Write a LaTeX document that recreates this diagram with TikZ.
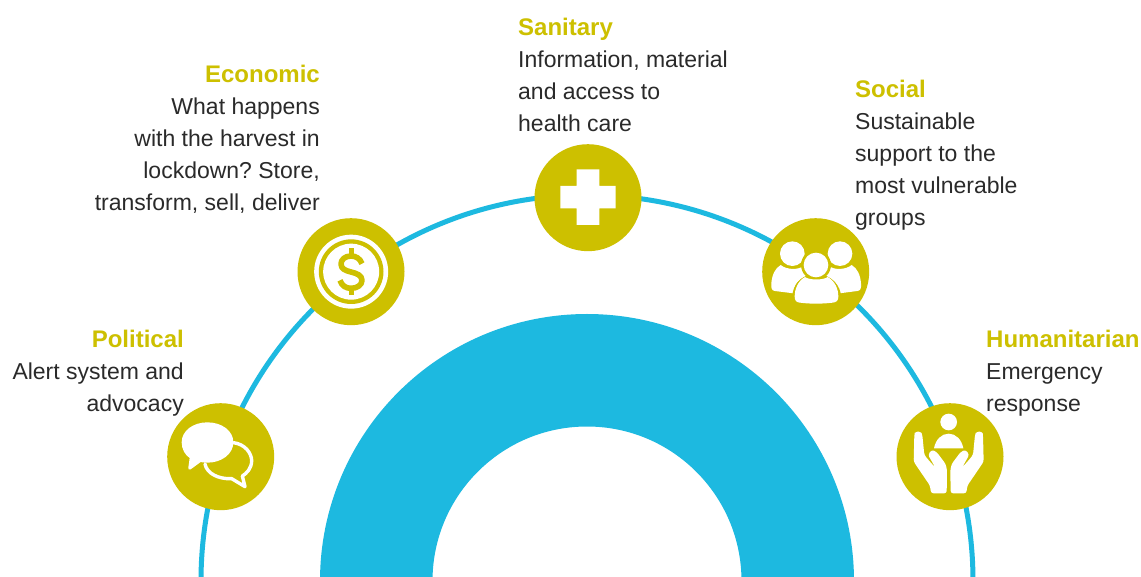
\documentclass[tikz,border=0pt]{standalone}
\usepackage{fontspec}
\setmainfont{Liberation Sans}
\definecolor{olive}{HTML}{CDC000}
\definecolor{sky}{HTML}{1DB9E0}
\definecolor{ink}{HTML}{2A2A2A}
\tikzset{
  badge/.style={circle,fill=olive,minimum size=107pt,inner sep=0pt},
  label/.style={text=ink,inner sep=0pt,font=\fontsize{23}{32}\selectfont\frenchspacing},
  lleft/.style={label,align=left,anchor=north west},
  lright/.style={label,align=right,anchor=north east},
  iconline/.style={draw=white,fill=none,line cap=round,line join=round},
}
\newcommand{\hd}[1]{{\fontsize{24}{32}\selectfont\bfseries\color{olive}#1}}
\newcommand{\onehand}{%
  \fill[white,rounded corners=2.5pt] (-103,135) -- (-101,125) -- (-83,125) -- (-79,135) -- (-73,195) -- (-58,213) -- (-40,233) -- (-62,194) -- (-50,179) -- (-36,186) -- (-9,222) -- (-5,240) -- (-6,310) -- (-53,310) -- (-56,287) -- (-105,215) -- cycle;
}
\begin{document}
\begin{tikzpicture}[x=1pt,y=-1pt]
\useasboundingbox (0,0) rectangle (1141,577);
\clip (0,0) rectangle (1141,577);
\fill[white] (0,0) rectangle (1141,577);
\coordinate (c) at (587,581);
\draw[sky,line width=5pt] (c) ++(-386,0) arc[start angle=180,end angle=360,radius=386];
\draw[sky,line width=112.5pt] (c) ++(-210.75,0) arc[start angle=180,end angle=360,radius=210.75];
\node[badge] (political) at (220.7,456.7) {};
\node[badge] (economic) at (351,271.7) {};
\node[badge] (sanitary) at (588,197.7) {};
\node[badge] (social) at (815.7,271.7) {};
\node[badge] (humanitarian) at (950,456.7) {};
% speech bubbles
\begin{scope}[shift={(150,390)},scale=1/3]
  \draw[iconline,line width=3.4pt] (250,158) .. controls (285,162) and (305,190) .. (305,212) .. controls (305,235) and (290,250) .. (277,258) -- (285,290) -- (245,266) .. controls (205,268) and (170,250) .. (165,222);
  \fill[white] (172,97) .. controls (215,97) and (250,122) .. (250,157) .. controls (250,192) and (215,218) .. (172,218) .. controls (162,218) and (158,217) .. (152,216) -- (122,238) .. controls (117,241) and (114,238) .. (115,233) -- (119,204) .. controls (105,195) and (95,177) .. (95,157) .. controls (95,122) and (130,97) .. (172,97) -- cycle;
\end{scope}
% coin
\begin{scope}[shift={(285,205)},scale=1/3]
  \fill[white] (198.5,200) circle (111);
  \fill[olive] (198.5,200) circle (97);
  \fill[white] (198.5,200) circle (84);
  \draw[olive,line width=5.6pt,line join=round] (231,176) .. controls (225,160) and (212,153) .. (198,153) .. controls (180,153) and (168,164) .. (168,177) .. controls (168,192) and (182,197) .. (198,201) .. controls (215,205) and (231,211) .. (231,226) .. controls (231,240) and (216,250) .. (198,250) .. controls (182,250) and (170,242) .. (165,226);
  \draw[olive,line width=5pt] (198,130) -- (198,153) (198,250) -- (198,270);
\end{scope}
% cross
\begin{scope}[shift={(525,135)},scale=1/3]
  \fill[white] (155,103) -- (223,103) -- (223,153) -- (272,153) -- (272,220) -- (223,220) -- (223,270) -- (155,270) -- (155,220) -- (106,220) -- (106,153) -- (155,153) -- cycle;
\end{scope}
% people
\begin{scope}[shift={(750,205)},scale=1/3]
  \fill[white] (127,146) circle (37);
  \fill[white] (270,146) circle (37);
  \fill[white] (92,180) .. controls (110,195) and (145,195) .. (158,184) -- (170,215) .. controls (145,220) and (132,240) .. (130,265) -- (75,258) .. controls (65,257) and (63,250) .. (64,235) .. controls (66,210) and (75,190) .. (92,180) -- cycle;
  \fill[white] (305,180) .. controls (287,195) and (252,195) .. (239,184) -- (227,215) .. controls (252,220) and (265,240) .. (268,265) -- (322,258) .. controls (332,257) and (334,250) .. (333,235) .. controls (331,210) and (322,190) .. (305,180) -- cycle;
  \fill[olive] (198,180) circle (45);
  \fill[olive] (198,207) .. controls (150,207) and (127,245) .. (127,275) .. controls (127,295) and (135,300) .. (150,301) -- (250,301) .. controls (265,300) and (273,295) .. (273,275) .. controls (273,245) and (246,207) .. (198,207) -- cycle;
  \fill[white] (198,180) circle (37);
  \fill[white] (165,216) .. controls (178,226) and (220,226) .. (233,216) .. controls (255,228) and (265,252) .. (265,275) .. controls (265,288) and (258,292) .. (248,293) .. controls (215,297) and (180,297) .. (150,293) .. controls (140,292) and (134,288) .. (134,275) .. controls (134,252) and (144,228) .. (165,216) -- cycle;
\end{scope}
% hands
\begin{scope}[shift={(885,390)},scale=1/3]
  \fill[white] (191,96) circle (25);
  \fill[white] (147,175) .. controls (152,148) and (170,131) .. (191,131) .. controls (212,131) and (230,148) .. (235,175) -- cycle;
  \begin{scope}[shift={(191,0)}]\onehand\end{scope}
  \begin{scope}[shift={(191,0)},xscale=-1]\onehand\end{scope}
\end{scope}
% labels
\node[lright] (tpol) at (184,329.5) {\hd{Political}\\Alert system and\\advocacy};
\node[lright] (teco) at (320,64.5) {\hd{Economic}\\What happens\\with the harvest in\\lockdown? Store,\\transform, sell, deliver};
\node[lleft] (tsan) at (518,17.5) {\hd{Sanitary}\\Information, material\\and access to\\health care};
\node[lleft] (tsoc) at (855,79.5) {\hd{Social}\\Sustainable\\support to the\\most vulnerable\\groups};
\node[lleft] (thum) at (986,329.5) {\hd{Humanitarian}\\Emergency\\response};
\end{tikzpicture}
\end{document}
